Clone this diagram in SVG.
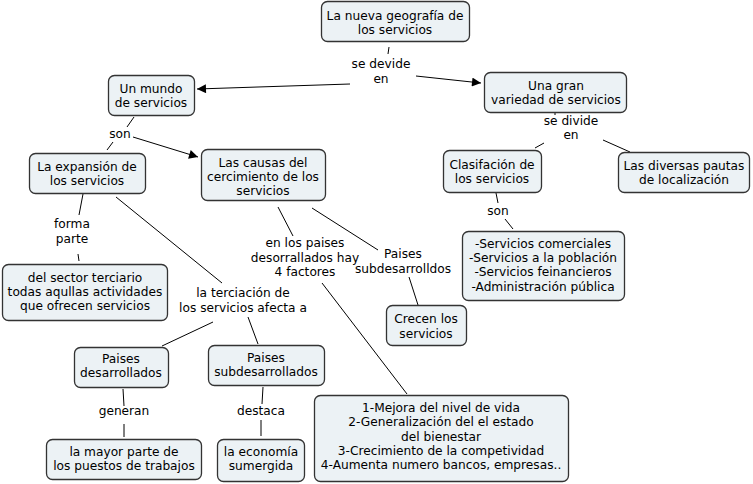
<svg xmlns="http://www.w3.org/2000/svg" width="753" height="484" viewBox="0 0 753 484">
<defs>
<style>
.n rect{fill:#ecf2f5;stroke:#333;stroke-width:1.3}
text{font-family:"DejaVu Sans",Verdana,sans-serif;font-size:12.2px;fill:#000;text-anchor:middle}
.c line{stroke:#000;stroke-width:1}
</style>
<marker id="ah" viewBox="0 0 10 10" refX="10" refY="5" markerWidth="11" markerHeight="9" markerUnits="userSpaceOnUse" orient="auto"><path d="M0,0L10,5L0,10z" fill="#000"/></marker>
</defs>
<rect width="753" height="484" fill="#fff"/>
<g class="c">
<line x1="389" y1="47" x2="388" y2="54"/>
<line x1="350" y1="84" x2="197" y2="89" marker-end="url(#ah)"/>
<line x1="416" y1="76" x2="481" y2="83" marker-end="url(#ah)"/>
<line x1="134" y1="117" x2="127" y2="127"/>
<line x1="113" y1="142" x2="107" y2="150"/>
<line x1="133" y1="137" x2="198" y2="157" marker-end="url(#ah)"/>
<line x1="83" y1="194" x2="79" y2="215"/>
<line x1="78" y1="254" x2="79" y2="261"/>
<line x1="116" y1="197" x2="222" y2="283"/>
<line x1="213" y1="322" x2="162" y2="346"/>
<line x1="248" y1="317" x2="258" y2="344"/>
<line x1="278" y1="207" x2="293" y2="236"/>
<line x1="312" y1="208" x2="378" y2="250"/>
<line x1="409" y1="277" x2="418" y2="305"/>
<line x1="322" y1="283" x2="407" y2="394"/>
<line x1="555" y1="112" x2="555" y2="115"/>
<line x1="544" y1="143" x2="535" y2="148"/>
<line x1="603" y1="140" x2="630" y2="152"/>
<line x1="496" y1="193" x2="498" y2="203"/>
<line x1="505" y1="219" x2="513" y2="229"/>
<line x1="123" y1="389" x2="124" y2="406"/>
<line x1="124" y1="424" x2="124" y2="437"/>
<line x1="263" y1="387" x2="262" y2="404"/>
<line x1="261" y1="420" x2="261" y2="436"/>
</g>
<g id="l1"><text x="381" y="68">se devide</text><text x="381" y="83">en</text></g>
<g id="l2"><text x="120" y="138">son</text></g>
<g id="l3"><text x="72" y="228">forma</text><text x="72" y="243">parte</text></g>
<g id="l4"><text x="305" y="247">en los paises</text><text x="305" y="262">desorrallados hay</text><text x="305" y="276">4 factores</text></g>
<g id="l5"><text x="403" y="258">Paises</text><text x="403" y="273">subdesarrolldos</text></g>
<g id="l6"><text x="243" y="297">la terciación de</text><text x="243" y="312">los servicios afecta a</text></g>
<g id="l7"><text x="571" y="125">se divide</text><text x="571" y="139">en</text></g>
<g id="l8"><text x="498" y="215">son</text></g>
<g id="l9"><text x="124" y="415">generan</text></g>
<g id="l10"><text x="261" y="415">destaca</text></g>
<g id="n1" class="n"><rect x="321.5" y="1.5" width="148" height="40" rx="6"/><text x="395" y="20">La nueva geografía de</text><text x="395" y="34">los servicios</text></g>
<g id="n2" class="n"><rect x="108.5" y="75.5" width="86" height="40" rx="6"/><text x="151" y="93">Un mundo</text><text x="151" y="107">de servicios</text></g>
<g id="n3" class="n"><rect x="484.5" y="72.5" width="142" height="40" rx="6"/><text x="556" y="90">Una gran</text><text x="556" y="104">variedad de servicios</text></g>
<g id="n4" class="n"><rect x="29.5" y="153.5" width="116" height="40" rx="6"/><text x="87" y="171">La expansión de</text><text x="87" y="185">los servicios</text></g>
<g id="n5" class="n"><rect x="201.5" y="149.5" width="124" height="51" rx="6"/><text x="263" y="167">Las causas del</text><text x="263" y="181">cercimiento de los</text><text x="263" y="195">servicios</text></g>
<g id="n6" class="n"><rect x="443.5" y="150.5" width="98" height="42" rx="6"/><text x="492" y="169">Clasifación de</text><text x="492" y="183">los servicios</text></g>
<g id="n7" class="n"><rect x="618.5" y="152.5" width="131" height="40" rx="6"/><text x="684" y="170">Las diversas pautas</text><text x="684" y="184">de localización</text></g>
<g id="n8" class="n"><rect x="2.5" y="264.5" width="165" height="56" rx="6"/><text x="85" y="282">del sector terciario</text><text x="85" y="296">todas aqullas actividades</text><text x="85" y="310">que ofrecen servicios</text></g>
<g id="n9" class="n"><rect x="462.5" y="231.5" width="162" height="69" rx="6"/><text x="543" y="248">-Servicios comerciales</text><text x="543" y="262">-Servicios a la población</text><text x="543" y="276">-Servicios feinancieros</text><text x="543" y="291">-Administración pública</text></g>
<g id="n10" class="n"><rect x="386.5" y="305.5" width="80" height="40" rx="6"/><text x="426" y="323">Crecen los</text><text x="426" y="338">servicios</text></g>
<g id="n11" class="n"><rect x="74.5" y="347.5" width="94" height="40" rx="6"/><text x="121" y="363">Paises</text><text x="121" y="377">desarrollados</text></g>
<g id="n12" class="n"><rect x="208.5" y="345.5" width="116" height="40" rx="6"/><text x="266" y="362">Paises</text><text x="266" y="376">subdesarrollados</text></g>
<g id="n13" class="n"><rect x="314.5" y="395.5" width="254" height="86" rx="6"/><text x="441" y="412">1-Mejora del nivel de vida</text><text x="441" y="426">2-Generalización del el estado</text><text x="441" y="441">del bienestar</text><text x="441" y="455">3-Crecimiento de la competividad</text><text x="441" y="469">4-Aumenta numero bancos, empresas..</text></g>
<g id="n14" class="n"><rect x="46.5" y="439.5" width="155" height="40" rx="6"/><text x="124" y="456">la mayor parte de</text><text x="124" y="470">los puestos de trabajos</text></g>
<g id="n15" class="n"><rect x="217.5" y="439.5" width="87" height="42" rx="6"/><text x="261" y="456">la economía</text><text x="261" y="470">sumergida</text></g>
</svg>
